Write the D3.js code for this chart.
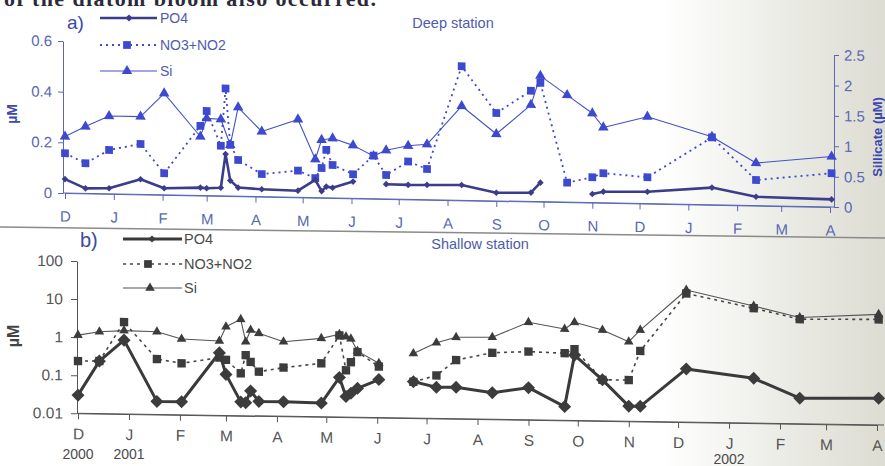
<!DOCTYPE html>
<html>
<head>
<meta charset="utf-8">
<script src="https://cdn.jsdelivr.net/npm/d3@7"></script>
<style>
  body { margin: 0; background: #fff; }
  svg { display: block; font-family: "Liberation Sans", Arial, sans-serif; }
</style>
</head>
<body>
<svg id="chart" width="885" height="466"></svg>
<script>
// sampling dates shared by both stations
const sampleDates = [
  "2000-12-01", "2000-12-14", "2000-12-29", "2001-01-18", "2001-02-02", "2001-02-25",
  "2001-03-01", "2001-03-10", "2001-03-13", "2001-03-16", "2001-03-21", "2001-04-05",
  "2001-04-28", "2001-05-09", "2001-05-13", "2001-05-16", "2001-05-20", "2001-06-02",
  "2001-06-15", "2001-06-23", "2001-07-07", "2001-07-19", "2001-08-10", "2001-09-01",
  "2001-09-23", "2001-09-29", "2001-10-16", "2001-11-01", "2001-11-08", "2001-12-06",
  "2002-01-16", "2002-02-13", "2002-04-02"
];
const monthLetters = ["D", "J", "F", "M", "A", "M", "J", "J", "A", "S", "O", "N", "D", "J", "F", "M", "A"];

// a) deep station (µM), Si on the right axis
const deepPO4 = [0.055, 0.020, 0.022, 0.06, 0.026, 0.031, 0.029, 0.032, 0.165, 0.061, 0.034, 0.029,
  0.026, 0.07, 0.026, 0.044, 0.04, 0.066, null, 0.058, 0.057, 0.058, 0.06, 0.032,
  0.035, 0.075, null, 0.034, 0.044, 0.047, 0.068, 0.035, 0.03];
const deepNO3 = [0.157, 0.119, 0.173, 0.199, 0.085, 0.275, 0.334, 0.198, 0.424, 0.202, 0.143, 0.089,
  0.105, 0.077, 0.117, 0.189, 0.13, 0.095, 0.17, 0.094, 0.149, 0.121, 0.529, 0.347,
  0.437, 0.469, 0.077, 0.10, 0.117, 0.104, 0.266, 0.101, 0.133];
const deepSi = [0.93, 1.10, 1.28, 1.28, 1.67, 0.97, 1.27, 1.26, null, 0.84, 1.46, 1.07,
  1.28, 0.63, 0.95, null, 0.98, 0.87, 0.70, 0.80, 0.88, 0.91, 1.55, 1.10,
  1.59, 2.07, 1.76, 1.47, 1.24, 1.43, 1.12, 0.70, 0.83];

// b) shallow station (µM, log axis)
const shallowPO4 = [0.030, 0.24, 0.87, 0.022, 0.022, 0.44, 0.12, 0.023, 0.022, 0.045, 0.024, 0.024,
  0.023, 0.11, 0.035, 0.043, 0.058, 0.10, null, 0.091, 0.066, 0.067, 0.050, 0.07,
  0.023, 0.52, 0.12, 0.025, 0.025, 0.25, 0.15, 0.047, 0.05];
const shallowNO3 = [0.236, 0.24, 2.6, 0.286, 0.225, 0.33, 0.29, 0.13, 0.39, 0.26, 0.145, 0.19,
  0.254, 1.4, 0.17, 0.28, 0.52, 0.22, null, 0.09, 0.135, 0.35, 0.56, 0.62,
  0.58, 0.75, 0.12, 0.121, 0.71, 24, 10.4, 5.6, 5.9];
const shallowSi = [1.13, 1.42, 1.55, 1.49, 0.98, 0.90, 2.14, 3.39, 0.88, 1.8, 1.48, 0.91,
  1.15, 1.5, 1.3, 1.15, 0.55, 0.27, null, 0.50, 0.98, 1.38, 1.43, 3.65,
  2.5, 3.8, 2.43, 1.23, 2.5, 29.5, 11.9, 6.2, 8.0];

const deepTicks = [0, 0.2, 0.4, 0.6];
const silicateTicks = [0, 0.5, 1, 1.5, 2, 2.5];
const shallowTicks = [0.01, 0.1, 1, 10, 100];
const yearTexts = ["2000", "2001", "2002"];
const yearDates = ["2000-12-01", "2001-01-01", "2002-01-01"];
const legendNames = ["PO4", "NO3+NO2", "Si"];

const parse = d3.timeParse("%Y-%m-%d");
const start = parse("2000-12-01");
const end = parse("2002-04-01");
const months = d3.timeMonth.range(start, d3.timeDay.offset(end, 1));

const svg = d3.select("#chart");

// slightly tinted scan on the right
const defs = svg.append("defs");
const grad = defs.append("linearGradient").attr("id", "tint")
  .attr("x1", "0").attr("x2", "1").attr("y1", "0").attr("y2", "0");
grad.append("stop").attr("offset", "0").attr("stop-color", "#ffffff");
grad.append("stop").attr("offset", "1").attr("stop-color", "#dcdcd2");
svg.append("rect").attr("x", 0).attr("y", 0).attr("width", 885).attr("height", 466).attr("fill", "#fff");
svg.append("rect").attr("x", 660).attr("y", 0).attr("width", 225).attr("height", 466).attr("fill", "url(#tint)");

// cropped line of body text at the top
svg.append("text")
  .attr("x", 4).attr("y", 6)
  .attr("font-family", "Liberation Serif, serif")
  .attr("font-size", 22)
  .attr("font-weight", "bold")
  .attr("textLength", 372)
  .attr("fill", "#2a2a3a")
  .text("of the diatom bloom also occurred.");

// separator between panels
svg.append("line")
  .attr("x1", 0).attr("y1", 227).attr("x2", 885).attr("y2", 238)
  .attr("stroke", "#8a8a8a").attr("stroke-width", 1.5);

function drawSeries(g, x, y, values, o) {
  const pts = sampleDates.map((d, i) => ({ date: parse(d), v: values[i] }));
  const linePts = o.connect ? pts.filter((p) => p.v != null) : pts;
  const line = d3.line()
    .defined((p) => p.v != null)
    .x((p) => x(p.date))
    .y((p) => y(p.v));
  g.append("path")
    .attr("d", line(linePts))
    .attr("fill", "none")
    .attr("stroke", o.stroke)
    .attr("stroke-width", o.width)
    .attr("stroke-dasharray", o.dash || null)
    .attr("stroke-linejoin", "round");
  g.selectAll(null)
    .data(pts.filter((p) => p.v != null))
    .join("path")
    .attr("d", d3.symbol(o.symbol, o.size))
    .attr("transform", (p) => `translate(${x(p.date)},${y(p.v)}) rotate(${o.rotate || 0})`)
    .attr("fill", o.fill);
}

function legend(g, x0, x1, ys, styles, labelX, color, size) {
  styles.forEach((s, i) => {
    g.append("line")
      .attr("x1", x0).attr("x2", x1).attr("y1", ys[i]).attr("y2", ys[i])
      .attr("stroke", s.stroke).attr("stroke-width", s.width)
      .attr("stroke-dasharray", s.dash || null);
    g.append("path")
      .attr("d", d3.symbol(s.symbol, s.legendSize))
      .attr("transform", `translate(${s.mx},${ys[i]}) rotate(${s.rotate || 0})`)
      .attr("fill", s.fill);
    g.append("text")
      .attr("x", labelX).attr("y", ys[i]).attr("dy", "0.36em")
      .attr("font-size", size).attr("fill", color)
      .text(legendNames[i]);
  });
}

function styleAxis(sel, color, size) {
  sel.selectAll("path,line").attr("stroke", color);
  sel.selectAll("text").attr("fill", color).attr("font-size", size).attr("font-family", "Liberation Sans, Arial, sans-serif");
}

// ---------- a) Deep station ----------
const kA = 0.0182, x0A = 63;
const gA = svg.append("g")
  .attr("transform", `translate(0,${-kA * x0A}) skewY(${Math.atan(kA) * 180 / Math.PI})`);

const xA = d3.scaleTime().domain([start, end]).range([65, 830]);
const yA = d3.scaleLinear().domain([0, 0.6]).range([193, 41]);
const ySi = d3.scaleLinear().domain([0, 2.5]).range([193, 41]);

const blue = "#3d49cf";
const navy = "#3b3d8c";
const axisBlue = "#5a68b4";

gA.append("g")
  .attr("transform", "translate(0,193)")
  .call(d3.axisBottom(xA).tickValues(months).tickFormat((d, i) => monthLetters[i]).tickSize(6).tickSizeOuter(0).tickPadding(12))
  .call((s) => styleAxis(s, axisBlue, 15));
gA.append("line").attr("x1", 63).attr("x2", 834).attr("y1", 193).attr("y2", 193).attr("stroke", axisBlue);

gA.append("g")
  .attr("transform", "translate(63,0)")
  .call(d3.axisLeft(yA).tickValues(deepTicks).tickFormat((d) => (d === 0 ? "0" : d.toFixed(1))).tickSize(5).tickSizeOuter(0).tickPadding(6))
  .call((s) => styleAxis(s, axisBlue, 15));

gA.append("g")
  .attr("transform", "translate(834,0)")
  .call(d3.axisRight(ySi).tickValues(silicateTicks).tickFormat((d) => String(d)).tickSize(5).tickSizeOuter(0).tickPadding(5))
  .call((s) => styleAxis(s, axisBlue, 15));

const deepSiStyle = { stroke: "#4452c4", width: 1.1, symbol: d3.symbolTriangle, size: 48, legendSize: 48, fill: blue, connect: true, mx: 127 };
const deepNO3Style = { stroke: blue, width: 1.8, dash: "2,4", symbol: d3.symbolSquare, size: 60, legendSize: 60, fill: blue, connect: true, mx: 127 };
const deepPO4Style = { stroke: navy, width: 2.6, symbol: d3.symbolSquare, size: 22, legendSize: 26, fill: navy, rotate: 45, mx: 129 };

drawSeries(gA, xA, ySi, deepSi, deepSiStyle);
drawSeries(gA, xA, yA, deepNO3, deepNO3Style);
drawSeries(gA, xA, yA, deepPO4, deepPO4Style);

legend(svg, 100, 157, [18, 45, 71], [deepPO4Style, deepNO3Style, deepSiStyle], 160, "#4e5cae", 14);

svg.append("text").attr("x", 67).attr("y", 29).attr("font-size", 19).attr("fill", "#3a48b0").text("a)");
svg.append("text").attr("x", 453).attr("y", 23).attr("dy", "0.36em").attr("text-anchor", "middle")
  .attr("font-size", 14.5).attr("fill", "#4e5cae").text("Deep station");
svg.append("text").attr("transform", "translate(17,114) rotate(-90)").attr("text-anchor", "middle")
  .attr("font-size", 14).attr("font-weight", "bold").attr("fill", "#3a48b0").text("µM");
svg.append("text").attr("transform", "translate(882,137) rotate(-90)").attr("text-anchor", "middle")
  .attr("font-size", 13).attr("font-weight", "bold").attr("fill", "#3a48b0").text("Sillicate (µM)");

// ---------- b) Shallow station ----------
const kB = 0.0145, x0B = 77;
const gB = svg.append("g")
  .attr("transform", `translate(0,${-kB * x0B}) skewY(${Math.atan(kB) * 180 / Math.PI})`);

const xB = d3.scaleTime().domain([start, end]).range([78, 877]);
const yB = d3.scaleLog().domain([0.01, 100]).range([413.3, 261]);

const grey = "#3c3c3c";
const axisGrey = "#555";

gB.append("g")
  .attr("transform", "translate(0,413.3)")
  .call(d3.axisBottom(xB).tickValues(months).tickFormat((d, i) => monthLetters[i]).tickSize(6).tickSizeOuter(0).tickPadding(9))
  .call((s) => styleAxis(s, axisGrey, 15.5));
gB.append("line").attr("x1", 77).attr("x2", 884).attr("y1", 413.3).attr("y2", 413.3).attr("stroke", axisGrey);

gB.append("g")
  .attr("transform", "translate(77,0)")
  .call(d3.axisLeft(yB).tickValues(shallowTicks).tickFormat((d) => String(d)).tickSize(6).tickSizeOuter(0).tickPadding(8))
  .call((s) => styleAxis(s, axisGrey, 15.5));

const shSiStyle = { stroke: "#555", width: 1.1, symbol: d3.symbolTriangle, size: 40, legendSize: 40, fill: grey, mx: 150 };
const shNO3Style = { stroke: "#444", width: 1.6, dash: "3,4", symbol: d3.symbolSquare, size: 70, legendSize: 60, fill: grey, mx: 148 };
const shPO4Style = { stroke: "#3a3a3a", width: 3, symbol: d3.symbolSquare, size: 85, legendSize: 26, fill: grey, rotate: 45, mx: 152 };

drawSeries(gB, xB, yB, shallowSi, shSiStyle);
drawSeries(gB, xB, yB, shallowNO3, shNO3Style);
drawSeries(gB, xB, yB, shallowPO4, shPO4Style);

legend(svg, 123, 182, [239, 264, 288], [shPO4Style, shNO3Style, shSiStyle], 184, "#4a4a4a", 14.5);

svg.append("text").attr("x", 80).attr("y", 247).attr("font-size", 20).attr("fill", "#3a4aa0").text("b)");
svg.append("text").attr("x", 480).attr("y", 244).attr("dy", "0.36em").attr("text-anchor", "middle")
  .attr("font-size", 14.5).attr("fill", "#4e5ca8").text("Shallow station");
svg.append("text").attr("transform", "translate(19,336) rotate(-90)").attr("text-anchor", "middle")
  .attr("font-size", 16).attr("font-weight", "bold").attr("fill", "#444").text("µM");

svg.selectAll(null)
  .data(yearTexts)
  .join("text")
  .attr("x", (d, i) => xB(parse(yearDates[i])))
  .attr("y", (d, i) => (i === 2 ? 464 : 459))
  .attr("text-anchor", "middle")
  .attr("font-size", 14)
  .attr("fill", "#4a4a4a")
  .text((d) => d);
</script>
</body>
</html>
